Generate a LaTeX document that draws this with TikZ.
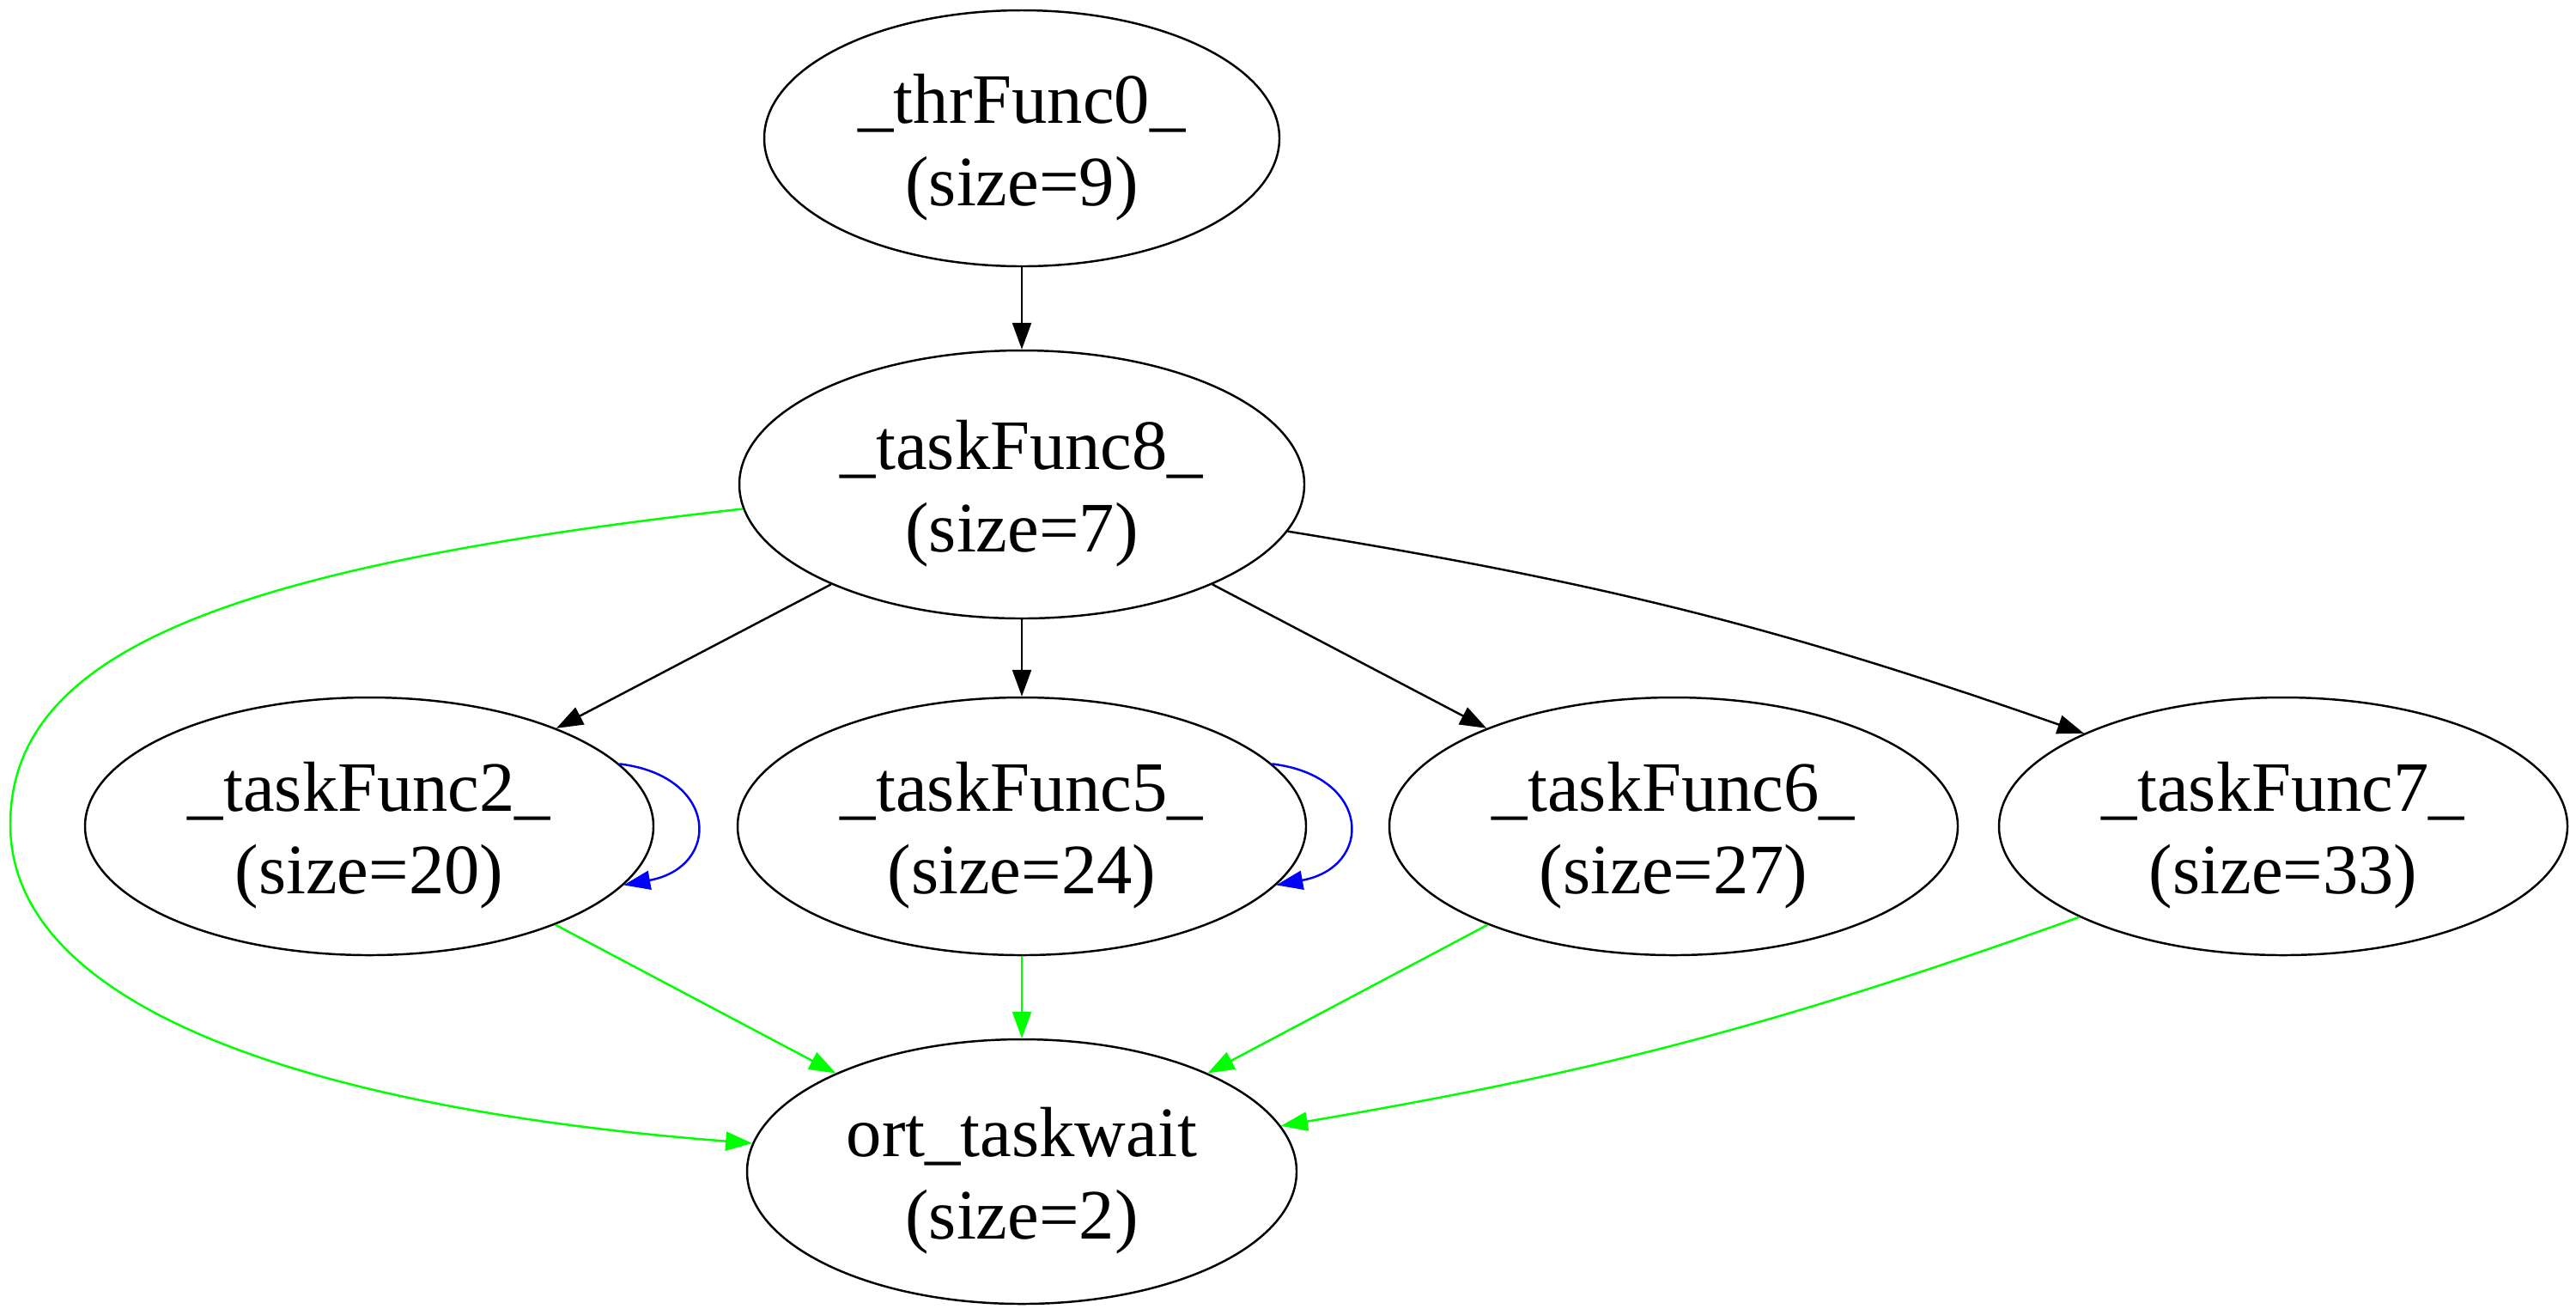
\documentclass[tikz,border=0pt]{standalone}
\usepackage{fontspec}
\setmainfont{Liberation Serif}
\usetikzlibrary{arrows.meta,shapes.geometric}

\begin{document}
\begin{tikzpicture}[
  font=\fontsize{23.5}{27.4}\selectfont,
  >={Triangle[length=3.1mm,width=2.2mm]},
  func/.style={draw=black, ellipse, line width=0.7pt, inner sep=0pt,
               align=center, text height=1.75cm,
               minimum width=6.62cm, minimum height=3.0cm},
  calledge/.style={->, line width=0.7pt, black},
  waitedge/.style={->, line width=0.7pt, green},
  recedge/.style={->, line width=0.7pt, blue}]

\useasboundingbox (0,0) rectangle (30,-15.23);

%% ---- hilo y tarea raíz ----
\node[func, minimum width=6.0cm, minimum height=2.98cm] (thr) at (11.9,-1.61)
  {\_thrFunc0\_\\(size=9)};
\node[func, minimum width=6.58cm, minimum height=3.12cm] (t8) at (11.9,-5.64)
  {\_taskFunc8\_\\(size=7)};

%% ---- tareas hijas ----
\node[func] (t2) at (4.30,-9.62)  {\_taskFunc2\_\\(size=20)};
\node[func] (t5) at (11.9,-9.62)  {\_taskFunc5\_\\(size=24)};
\node[func] (t6) at (19.49,-9.62) {\_taskFunc6\_\\(size=27)};
\node[func] (t7) at (26.59,-9.62) {\_taskFunc7\_\\(size=33)};

%% ---- espera ----
\node[func, minimum width=6.4cm, minimum height=3.08cm] (ort) at (11.9,-13.64)
  {ort\_taskwait\\(size=2)};

%% ---- llamadas ----
\draw[calledge] (thr) -- (t8);
\draw[calledge] (t8) -- (t2);
\draw[calledge] (t8) -- (t5);
\draw[calledge] (t8) -- (t6);
\draw[calledge] (t8.-10) to[bend left=5] (t7.155);

% recursión de las tareas 2 y 5
\draw[recedge] (t2.14) .. controls +(1.16,-0.14) and +(1.14,0.21) .. (t2.-13);
\draw[recedge] (t5.14) .. controls +(1.16,-0.14) and +(1.14,0.21) .. (t5.-13);

% todas acaban en el taskwait; la de taskFunc8 rodea por la izquierda
\draw[waitedge] (t8.185) .. controls (2.6,-6.6) and (0.12,-7.6) .. (0.12,-9.6)
  .. controls (0.12,-11.7) and (3.5,-12.9) .. (ort.174);
\draw[waitedge] (t2) -- (ort);
\draw[waitedge] (t5) -- (ort);
\draw[waitedge] (t6) -- (ort);
\draw[waitedge] (t7.204) to[bend left=5] (ort.10);
\end{tikzpicture}
\end{document}
